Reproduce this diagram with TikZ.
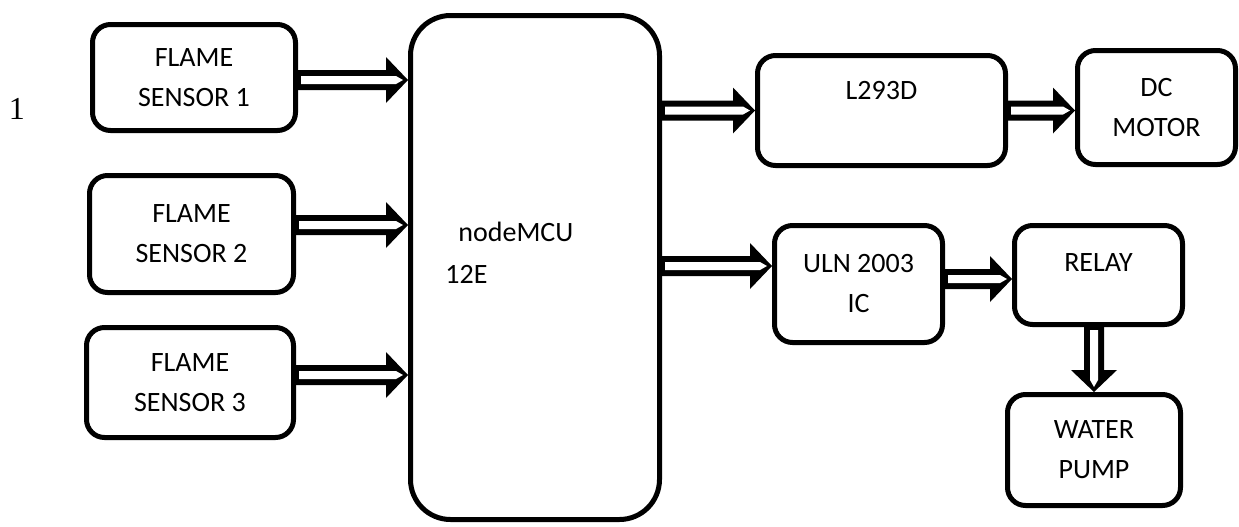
\documentclass[tikz,border=0pt]{standalone}
\usepackage{fontspec}
\setmainfont{Carlito}
\newfontfamily\numfont{Liberation Serif}
\usepackage{tikz}
\usetikzlibrary{calc,positioning}
\tikzset{%
  block/.style={draw, line width=2.5pt, rectangle, rounded corners=9pt,
    align=center, inner sep=0pt, font=\fontsize{14}{20}\selectfont},% small unit
  mcublock/.style={block, rounded corners=20pt},% controller board
  plain/.style={inner sep=0pt, font=\fontsize{14}{20}\selectfont}
}
\newcommand*{\shaftout}{5pt}
\newcommand*{\shaftin}{2pt}
\newcommand*{\headw}{11.5pt}
\newcommand*{\headlen}{11pt}
% hollow arrow, shaft height taken from the start point
\newcommand*{\harrow}[2]{
  \fill let \p1=(#1), \p2=(#2) in
    (\x1,\y1+\shaftout) -- (\x2-\headlen,\y1+\shaftout) -- (\x2-\headlen,\y1+\headw)
    -- (\x2,\y1) -- (\x2-\headlen,\y1-\headw) -- (\x2-\headlen,\y1-\shaftout)
    -- (\x1,\y1-\shaftout) -- cycle;
  \fill[white] let \p1=(#1), \p2=(#2) in
    (\x1+1.5pt,\y1+\shaftin) -- (\x2-6pt,\y1+\shaftin) -- (\x2-2.5pt,\y1)
    -- (\x2-6pt,\y1-\shaftin) -- (\x1+1.5pt,\y1-\shaftin) -- cycle;}
\newcommand*{\varrow}[2]{
  \fill let \p1=(#1), \p2=(#2) in
    (\x1-\shaftout,\y1) -- (\x1-\shaftout,\y2+\headlen) -- (\x1-\headw,\y2+\headlen)
    -- (\x1,\y2) -- (\x1+\headw,\y2+\headlen) -- (\x1+\shaftout,\y2+\headlen)
    -- (\x1+\shaftout,\y1) -- cycle;
  \fill[white] let \p1=(#1), \p2=(#2) in
    (\x1-\shaftin,\y1-1.5pt) -- (\x1-\shaftin,\y2+6pt) -- (\x1,\y2+2.5pt)
    -- (\x1+\shaftin,\y2+6pt) -- (\x1+\shaftin,\y1-1.5pt) -- cycle;}
\begin{document}
\begin{tikzpicture}[x=0.5pt, y=-0.5pt]
\useasboundingbox (0,0) rectangle (1239,526);

\node[font=\numfont\fontsize{16}{16}\selectfont, inner sep=0pt] (num) at (17,109) {1};

% sensors
\node[block, minimum width=101.5pt, minimum height=53pt] (fs1) at (194,77.5) {FLAME\\SENSOR 1};
\node[block, minimum width=102pt, minimum height=58.5pt] (fs2) at (191.5,234) {FLAME\\SENSOR 2};
\node[block, minimum width=103.5pt, minimum height=55pt] (fs3) at (190,382.5) {FLAME\\SENSOR 3};

% controller
\node[mcublock, minimum width=124.5pt, minimum height=252pt] (mcu) at (535,267.5) {};
\node[plain, anchor=base west] (mcuname) at (458,241) {nodeMCU};
\node[plain, anchor=base west] (mcuver) at (445,283) {12E};

% outputs
\node[block, minimum width=124pt, minimum height=55pt] (l293) at (881.5,110.5) {L293D\\\mbox{}};
\node[block, minimum width=79pt, minimum height=57pt] (dc) at (1156.5,107.5) {DC\\MOTOR};
\node[block, minimum width=84pt, minimum height=58.5pt] (uln) at (858.5,284) {ULN 2003\\IC};
\node[block, minimum width=84pt, minimum height=49.5pt] (relay) at (1098.5,275) {RELAY\\[-8pt]\mbox{}};
\node[block, minimum width=86.5pt, minimum height=55.5pt] (pump) at (1094,450) {WATER\\PUMP};

\harrow{$(fs1.east)+(0,2.5)$}{mcu.west}
\harrow{$(fs2.east)+(0,-9)$}{mcu.west}
\harrow{$(fs3.east)+(0,-7.5)$}{mcu.west}

\harrow{mcu.east |- l293.west}{l293.west}
\harrow{$(mcu.east |- uln.west)+(0,-18)$}{uln.west}
\harrow{l293.east}{dc.west}
\harrow{$(uln.east)+(0,-5)$}{relay.west}
\varrow{relay.south -| pump.north}{pump.north}

\end{tikzpicture}
\end{document}
